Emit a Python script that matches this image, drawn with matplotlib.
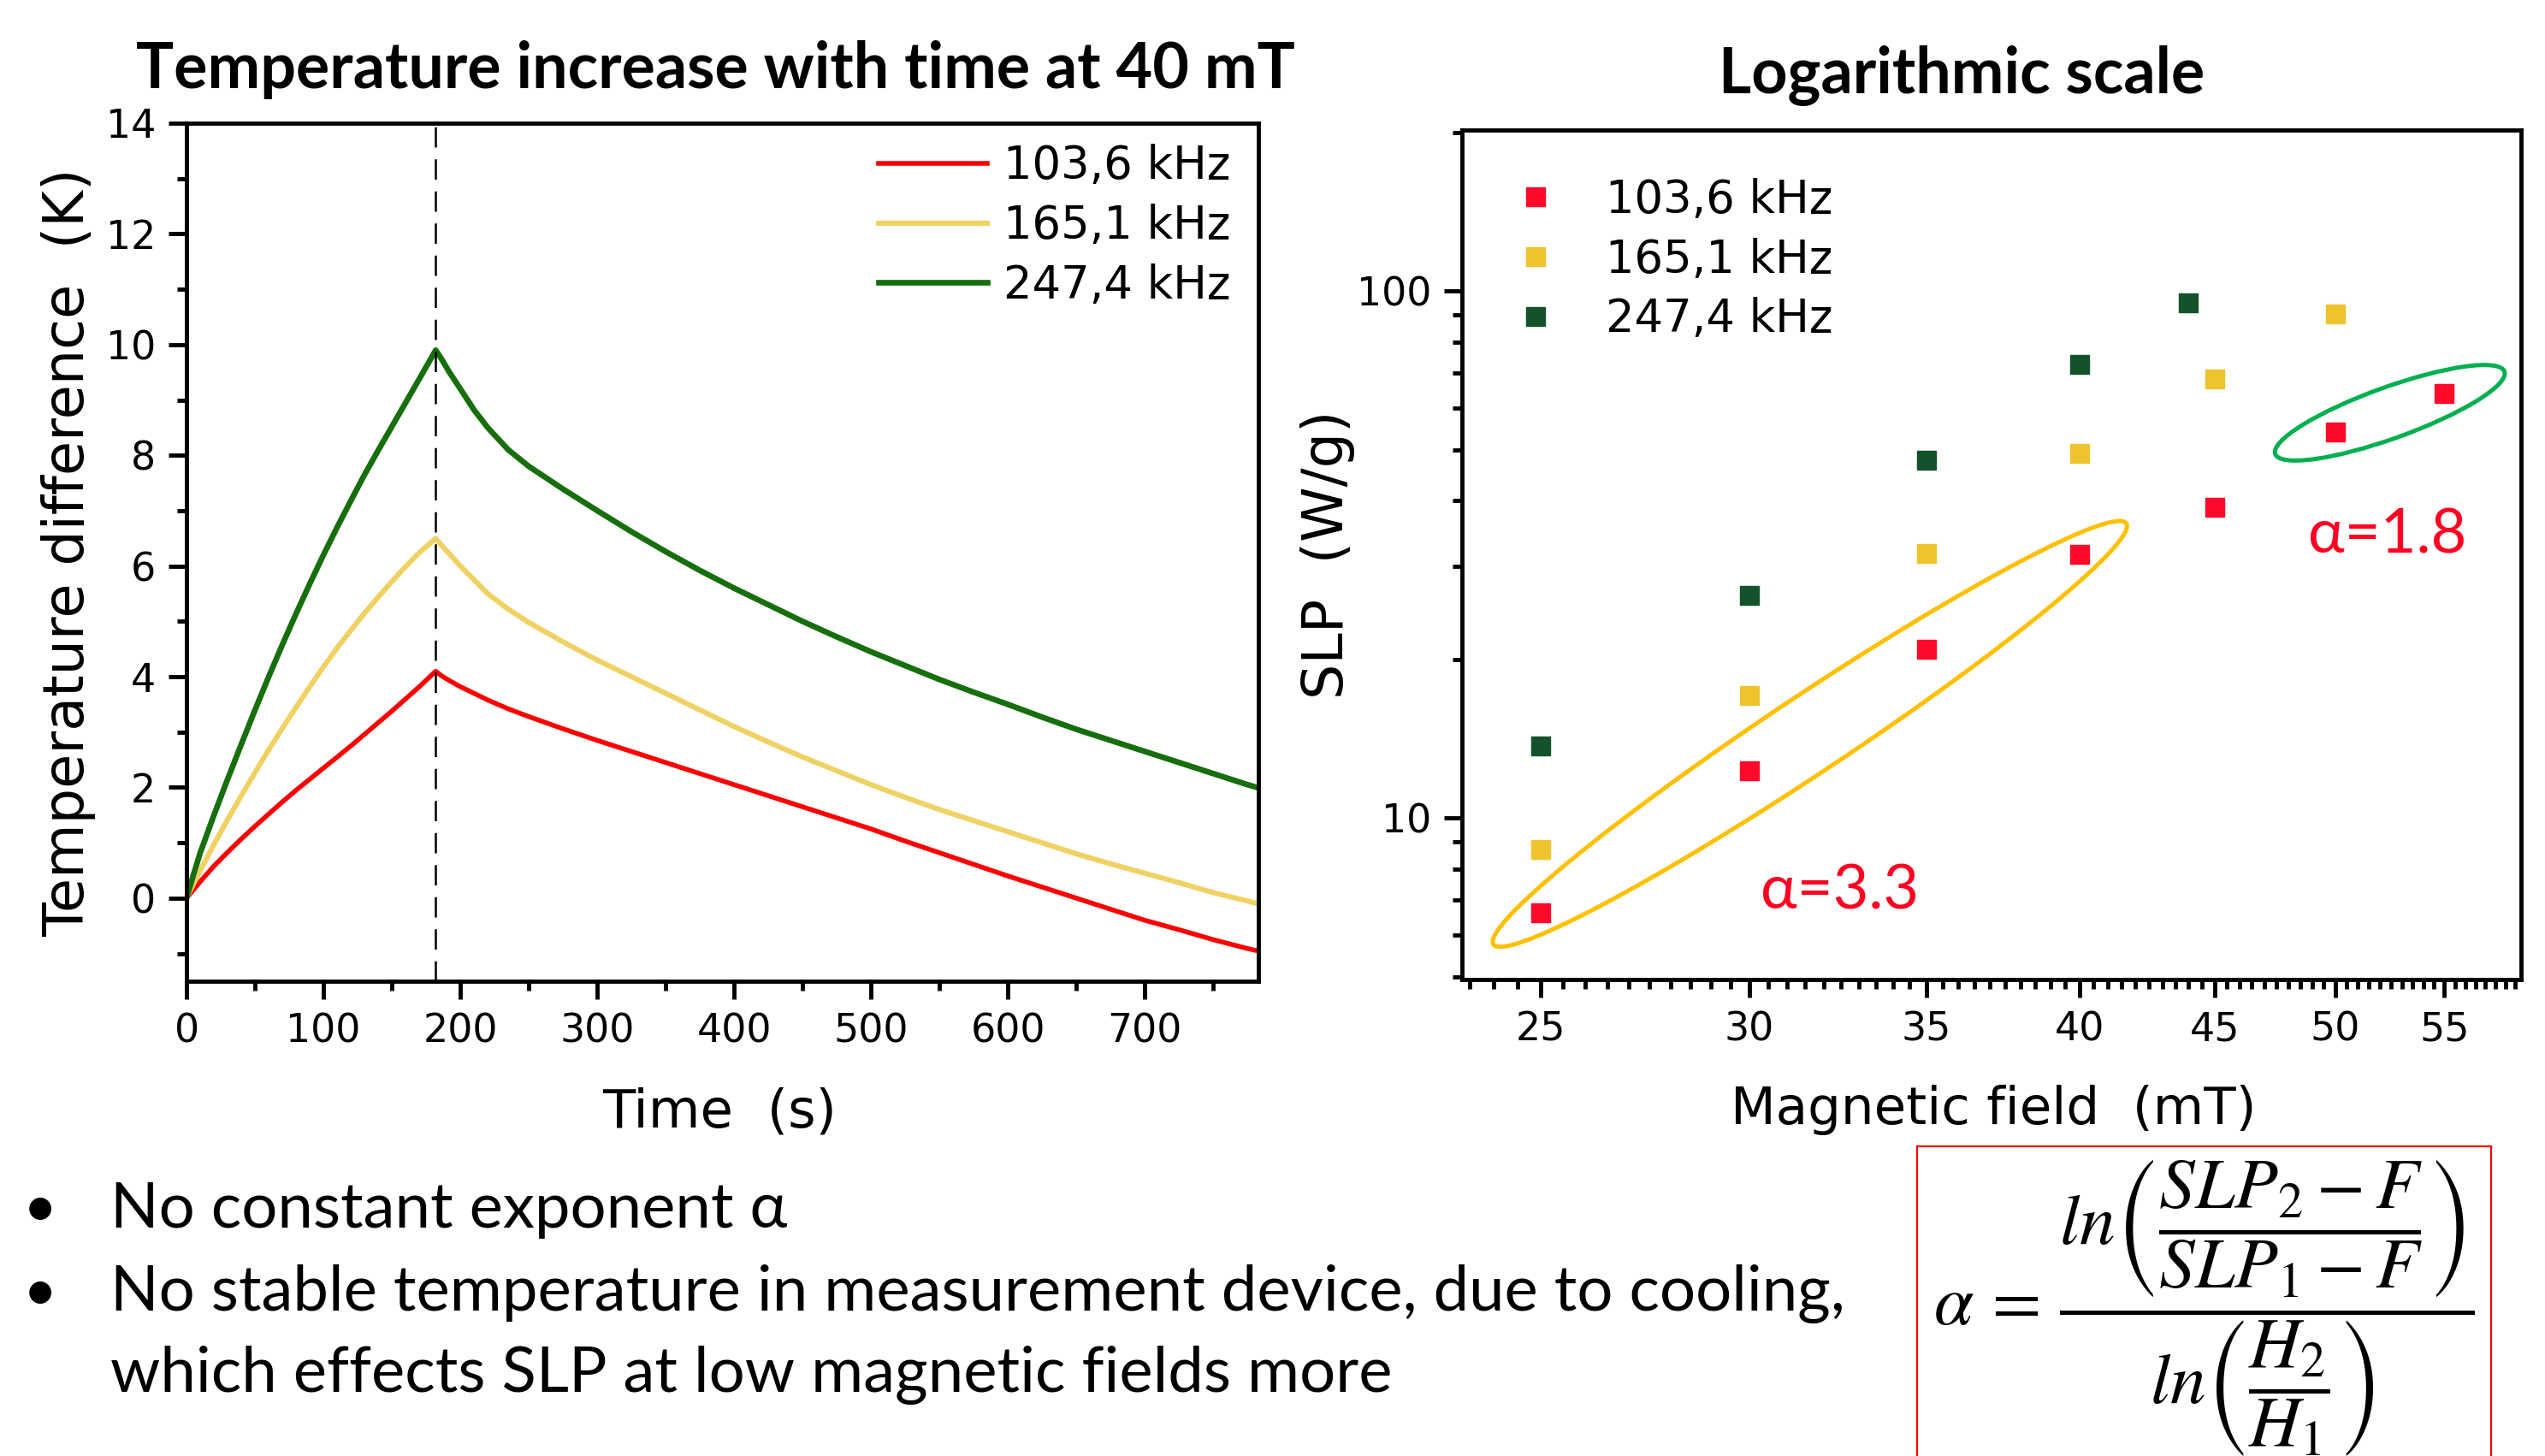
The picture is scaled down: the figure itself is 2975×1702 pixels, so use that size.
import numpy as np
import matplotlib.pyplot as plt
from matplotlib.patches import Ellipse, Rectangle
from matplotlib.ticker import MultipleLocator, FixedLocator, NullFormatter, LogLocator
from matplotlib.transforms import IdentityTransform

# ---- left panel: temperature rise at 40 mT (field on until t_off) ----
t_s = [0, 5, 10, 20, 30, 40, 50, 60, 70, 80, 90, 100, 110, 120, 130, 140, 150, 160, 170, 182,
       186, 192, 200, 210, 220, 235, 250, 275, 300, 325, 350, 375, 400, 425, 450, 475, 500,
       525, 550, 575, 600, 625, 650, 675, 700, 725, 750, 775, 782]
dT_103 = [0, 0.15, 0.3, 0.58, 0.83, 1.07, 1.3, 1.52, 1.74, 1.95, 2.15, 2.35, 2.55, 2.75, 2.96,
          3.17, 3.38, 3.6, 3.82, 4.1,
          4.02, 3.93, 3.82, 3.7, 3.58, 3.42, 3.28, 3.06, 2.85, 2.65, 2.45, 2.25, 2.05, 1.85,
          1.65, 1.45, 1.25, 1.03, 0.82, 0.61, 0.4, 0.2, 0.0, -0.2, -0.4, -0.57, -0.75, -0.91, -0.95]
dT_165 = [0, 0.26, 0.5, 0.97, 1.42, 1.85, 2.27, 2.68, 3.07, 3.45, 3.82, 4.18, 4.52, 4.84, 5.15,
          5.44, 5.72, 5.99, 6.24, 6.5,
          6.38, 6.22, 6.0, 5.75, 5.5, 5.22, 4.98, 4.63, 4.3, 4.0, 3.7, 3.4, 3.1, 2.82, 2.55,
          2.3, 2.05, 1.82, 1.6, 1.4, 1.2, 1.0, 0.8, 0.62, 0.45, 0.28, 0.1, -0.05, -0.1]
dT_247 = [0, 0.42, 0.82, 1.5, 2.15, 2.78, 3.4, 4.0, 4.58, 5.14, 5.68, 6.2, 6.7, 7.18, 7.65,
          8.09, 8.52, 8.95, 9.38, 9.9,
          9.75, 9.5, 9.2, 8.82, 8.5, 8.1, 7.8, 7.39, 7.0, 6.62, 6.26, 5.92, 5.6, 5.3, 5.0,
          4.72, 4.45, 4.2, 3.95, 3.72, 3.5, 3.27, 3.05, 2.85, 2.65, 2.45, 2.25, 2.05, 2.0]
freq_labels = ['103,6 kHz', '165,1 kHz', '247,4 kHz']
t_off = 182

# ---- right panel: SLP vs magnetic field ----
H_103 = [25, 30, 35, 40, 45, 50, 55]
slp_103 = [6.6, 12.3, 20.9, 31.6, 38.9, 53.9, 64.0]
H_165 = [25, 30, 35, 40, 45, 50]
slp_165 = [8.7, 17.1, 31.8, 49.1, 68.1, 90.4]
H_247 = [25, 30, 35, 40, 44]
slp_247 = [13.7, 26.4, 47.8, 72.6, 94.9]
field_ticks = [25, 30, 35, 40, 45, 50, 55]
alpha_low, alpha_high = '3.3', '1.8'

line_cols = ['#FF0000', '#F0D264', '#166E0C']
dot_cols = ['#FF0A2A', '#EDC42E', '#14522C']

sans = ['Lato', 'DejaVu Sans']
plt.rcParams['font.family'] = 'DejaVu Sans'
plt.rcParams['mathtext.fontset'] = 'stix'

fig = plt.figure(figsize=(29.75, 17.02), dpi=100)


def frame(ax):
    for s in ax.spines.values():
        s.set_linewidth(3.5)
    ax.tick_params(which='major', direction='out', length=15, width=3.5,
                   labelsize=33, pad=11, top=False, right=False)
    ax.tick_params(which='minor', direction='out', length=8, width=3.5,
                   top=False, right=False)


#######################################################################
ax1 = fig.add_axes([0.0733, 0.3261, 0.4212, 0.5893])
for y, c, lab, lw in zip([dT_103, dT_165, dT_247], line_cols, freq_labels, [4.0, 4.4, 4.8]):
    ax1.plot(t_s, y, color=c, lw=lw, label=lab, solid_joinstyle='round')
ax1.axvline(t_off, color='black', lw=1.8, ls=(0, (9.5, 5.5)))
ax1.set_xlim(0, 783)
ax1.set_ylim(-1.5, 14)
ax1.xaxis.set_major_locator(MultipleLocator(100))
ax1.xaxis.set_minor_locator(MultipleLocator(50))
ax1.yaxis.set_major_locator(MultipleLocator(2))
ax1.yaxis.set_minor_locator(MultipleLocator(1))
frame(ax1)
ax1.set_xlabel('Time  (s)', fontsize=45)
ax1.xaxis.set_label_coords(0.497, -0.1535)
ax1.xaxis.label.set_va('center')
ax1.set_ylabel('Temperature difference  (K)', fontsize=47, va='center')
ax1.yaxis.set_label_coords(-0.110, 0.5)
ax1.legend(loc='upper right', bbox_to_anchor=(0.974, 0.976), frameon=False,
           fontsize=38, handlelength=2.4, handletextpad=0.36, labelspacing=0.34,
           borderpad=0, borderaxespad=0)

#######################################################################
ax2 = fig.add_axes([0.5745, 0.3273, 0.4161, 0.5834])
ax2.set_xscale('log')
ax2.set_yscale('log')
for xs, ys, c, lab in zip([H_103, H_165, H_247], [slp_103, slp_165, slp_247], dot_cols, freq_labels):
    ax2.plot(xs, ys, 's', ms=16, color=c, label=lab, zorder=3)
ax2.set_xlim(23.35, 58.8)
ax2.set_ylim(4.94, 202)
ax2.xaxis.set_major_locator(FixedLocator(field_ticks))
ax2.set_xticklabels([str(v) for v in field_ticks])
ax2.xaxis.set_minor_locator(FixedLocator([v for v in np.arange(23.5, 59, 0.5) if v % 5 != 0]))
ax2.xaxis.set_minor_formatter(NullFormatter())
ax2.yaxis.set_major_locator(FixedLocator([10, 100]))
ax2.set_yticklabels(['10', '100'])
ax2.yaxis.set_minor_locator(LogLocator(base=10, subs=np.arange(2, 10)))
ax2.yaxis.set_minor_formatter(NullFormatter())
frame(ax2)
ax2.set_xlabel('Magnetic field  (mT)', fontsize=44)
ax2.xaxis.set_label_coords(0.502, -0.154)
ax2.xaxis.label.set_va('center')
ax2.set_ylabel('SLP  (W/g)', fontsize=47, va='center')
ax2.yaxis.set_label_coords(-0.127, 0.5)
ax2.legend(loc='upper left', bbox_to_anchor=(0.048, 0.944), frameon=False,
           fontsize=38, handlelength=1.0, handletextpad=1.05, labelspacing=0.34,
           borderpad=0, borderaxespad=0)


def ring(ax, xs, ys, pad, minor, color):
    # ellipse drawn around a group of points, in pixel space
    pts = ax.transData.transform(np.column_stack([xs, ys]))
    d = pts[-1] - pts[0]
    ang = np.degrees(np.arctan2(d[1], d[0]))
    ax.add_patch(Ellipse((pts[0] + pts[-1]) / 2, np.hypot(*d) + pad, minor, angle=ang,
                         transform=IdentityTransform(), fill=False, ec=color, lw=3.6,
                         clip_on=False, zorder=2))


ring(ax2, H_103[:4], slp_103[:4], 132, 90, '#FFC000')
ring(ax2, H_103[5:], slp_103[5:], 149, 60, '#00B050')
ax2.text(0.282, 0.104, '\u03b1=' + alpha_low, transform=ax2.transAxes, color='#FF0022',
         fontsize=52, family=sans, ha='left', va='center')
ax2.text(0.799, 0.523, '\u03b1=' + alpha_high, transform=ax2.transAxes, color='#FF0022',
         fontsize=52, family=sans, ha='left', va='center')

#######################################################################
fig.text(0.2813, 1 - 82 / 1702, 'Temperature increase with time at 40 mT', fontsize=53,
         fontweight='bold', family=sans, ha='center', va='center')
fig.text(0.7708, 1 - 89 / 1702, 'Logarithmic scale', fontsize=53,
         fontweight='bold', family=sans, ha='center', va='center')

bullets = ['No constant exponent \u03b1',
           'No stable temperature in measurement device, due to cooling,']
for yy, txt in zip([1415, 1512], bullets):
    fig.text(0.0158, 1 - yy / 1702, '\u2022', fontsize=50, family=sans, ha='center', va='center')
    fig.text(0.0434, 1 - yy / 1702, txt, fontsize=53.5, family=sans, ha='left', va='center')
fig.text(0.0434, 1 - 1607 / 1702, 'which effects SLP at low magnetic fields more', fontsize=53.5,
         family=sans, ha='left', va='center')

fig.add_artist(Rectangle((2241 / 2975, -0.02), (2912 - 2241) / 2975, (1702 - 1340) / 1702 + 0.02,
                         transform=fig.transFigure, fill=False, ec='#FF0000', lw=1.6))
fig.text(0.866, 1 - 1529 / 1702,
         r'$\alpha\,=\,\dfrac{ln\left(\dfrac{SLP_2-F}{SLP_1-F}\right)}{ln\left(\dfrac{H_2}{H_1}\right)}$',
         fontsize=60, ha='center', va='center')

fig.savefig('out.png', dpi=100)
